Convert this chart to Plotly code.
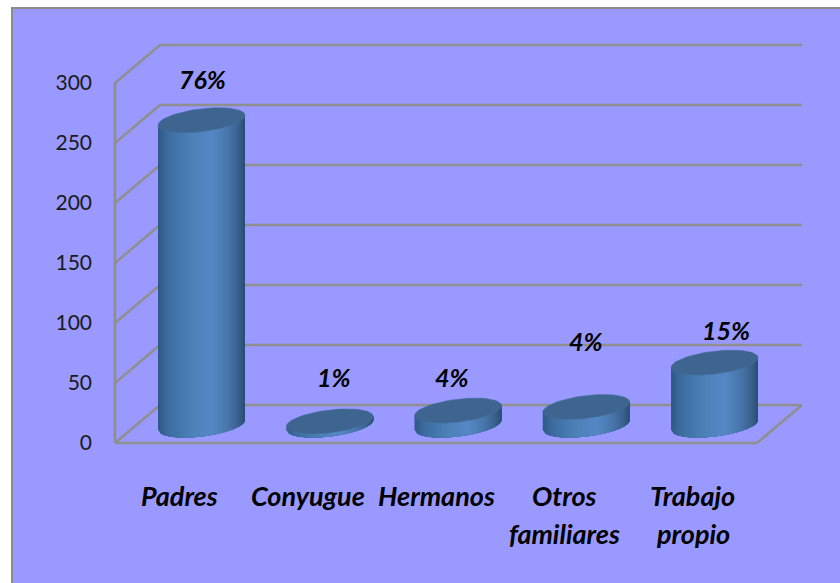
import numpy as np
import plotly.graph_objects as go

categories = ['Padres', 'Conyugue', 'Hermanos', 'Otros familiares', 'Trabajo propio']
label_lines = [['Padres'], ['Conyugue'], ['Hermanos'], ['Otros', 'familiares'], ['Trabajo', 'propio']]
values = [254, 3, 12, 15, 52]
percents = ['76%', '1%', '4%', '4%', '15%']
y_ticks = [0, 50, 100, 150, 200, 250, 300]

# where the percent labels sit, in axis units
pct_x = [0.01, 1.03, 1.95, 3.0, 4.09]
pct_y = [303, 55, 55, 85, 94]

# plot box in picture px, a bit bigger than the drawing so lines are not clipped
LEFT, RIGHT, TOP, BOTTOM = 110, 806, 40, 448
# px per unit, first category at x=201.5, value 0 at y=443
PX_X = 128.25
PX_Y = 1.2
X_RANGE = [(LEFT - 201.5) / PX_X, (RIGHT - 201.5) / PX_X]
Y_RANGE = [(443 - BOTTOM) / PX_Y, (443 - TOP) / PX_Y]

# fake 3d: depth of the floor and the cylinder shape
DEPTH_X = 45 / PX_X
DEPTH_Y = 38 / PX_Y
FRONT_X = (115 - 201.5) / PX_X
BACK_X = FRONT_X + DEPTH_X
WALL_END = (802 - 201.5) / PX_X
FLOOR_END = (757 - 201.5) / PX_X
HALF = 43.5 / PX_X
BASE = 18 / PX_Y
SHEAR = 5 / PX_Y
MINOR = 11.5 / PX_Y

GRID = '#8f8f8f'
TOP_COLOR = '#3e658f'
stops = [0, 0.1, 0.35, 0.62, 0.8, 0.93, 1]
reds = [47, 60, 77, 85, 74, 60, 44]
greens = [91, 108, 127, 136, 120, 98, 79]
blues = [138, 159, 183, 198, 173, 143, 120]
N_STRIPS = 44


def paper_x(px):
    return (px - LEFT) / (RIGHT - LEFT)


def paper_y(py):
    return (BOTTOM - py) / (BOTTOM - TOP)


fig = go.Figure()

# grid lines go along the side wall and then the back wall
grid_x, grid_y = [], []
for t in y_ticks:
    grid_x += [FRONT_X, BACK_X, WALL_END, None]
    grid_y += [t, t + DEPTH_Y, t + DEPTH_Y, None]
grid_x += [FRONT_X, FLOOR_END, WALL_END, None]
grid_y += [0, 0, DEPTH_Y, None]
grid_x += [FRONT_X, FRONT_X, None]
grid_y += [0, y_ticks[-1], None]
fig.add_trace(go.Scatter(x=grid_x, y=grid_y, mode='lines', line=dict(color=GRID, width=2.6)))

# cylinder bodies, one trace per shade, painted left to right
us = np.linspace(-1, 1, N_STRIPS + 1)
for i in range(N_STRIPS):
    frac = i / (N_STRIPS - 1)
    color = 'rgb(%d,%d,%d)' % (np.interp(frac, stops, reds), np.interp(frac, stops, greens), np.interp(frac, stops, blues))
    u = np.linspace(us[i], 1, 30)
    xs, ys = [], []
    for k, v in enumerate(values):
        low = BASE + SHEAR * u - MINOR * np.sqrt(np.clip(1 - u ** 2, 0, 1))
        up = BASE + v + SHEAR * u
        xs += list(k + HALF * u) + list(k + HALF * u[::-1]) + [None]
        ys += list(low) + list(up[::-1]) + [None]
    fig.add_trace(go.Scatter(x=xs, y=ys, mode='lines', fill='toself', fillcolor=color, line=dict(width=0)))

# top caps
t = np.linspace(0, 2 * np.pi, 80)
for k, v in enumerate(values):
    fig.add_trace(go.Scatter(
        x=k + HALF * np.cos(t),
        y=BASE + v + SHEAR * np.cos(t) + MINOR * np.sin(t),
        mode='lines', fill='toself', fillcolor=TOP_COLOR, line=dict(color='#44709f', width=0.5)
    ))

annotations = []
for x, y, txt in zip(pct_x, pct_y, percents):
    annotations.append(dict(x=x, y=y, xref='x', yref='y', text='<b><i>' + txt + '</i></b>', showarrow=False,
                            font=dict(family='Lato', size=25, color='black')))

# category labels, one annotation per row because the rows are far apart
for k, lines in enumerate(label_lines):
    for row, line in enumerate(lines):
        annotations.append(dict(x=k - 0.17, y=paper_y(495 + 38 * row), xref='x', yref='paper',
                                xanchor='center', yanchor='middle',
                                text='<b><i>' + line + '</i></b>', showarrow=False,
                                font=dict(family='Lato', size=27, color='black')))

fig.update_layout(
    width=840, height=583,
    margin=dict(l=LEFT, r=840 - RIGHT, t=TOP, b=583 - BOTTOM),
    paper_bgcolor='white',
    plot_bgcolor='rgba(0,0,0,0)',
    showlegend=False,
    hovermode=False,
    annotations=annotations,
    # purple panel with its grey frame
    shapes=[dict(type='rect', xref='paper', yref='paper', layer='below',
                 x0=paper_x(12), x1=paper_x(842),
                 y0=paper_y(590), y1=paper_y(8),
                 fillcolor='#9999ff', line=dict(color='#8c8c8c', width=2))],
)
fig.update_xaxes(range=X_RANGE, showgrid=False, zeroline=False, showticklabels=False, showline=False)
fig.update_yaxes(range=Y_RANGE, tickvals=y_ticks, showgrid=False, zeroline=False,
                 showline=False, ticks='', ticklabelstandoff=17,
                 tickfont=dict(family='Lato', size=21, color='#1a1a1a'))

# the page has a default body margin that would push the chart off by 8px
fig.write_html('out.html', config=dict(displayModeBar=False), post_script="document.body.style.margin='0';")
